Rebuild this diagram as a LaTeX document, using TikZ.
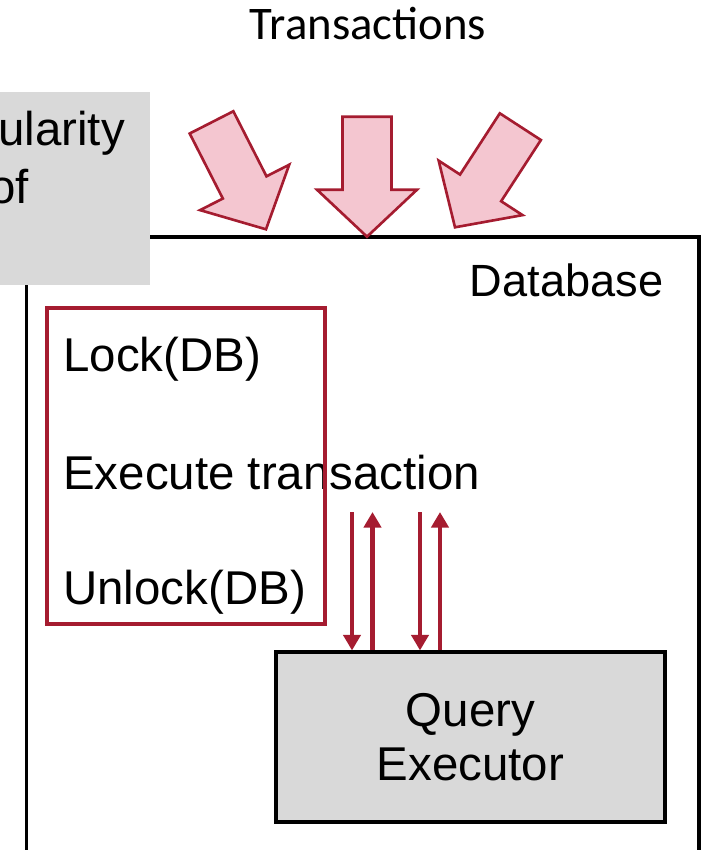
\documentclass[tikz,border=0pt]{standalone}
\usepackage{fontspec}
\setmainfont{Liberation Sans}
\newfontfamily\calibrifont{Carlito}
\usetikzlibrary{arrows.meta}
\definecolor{crimson}{HTML}{A51C30}
\definecolor{pinkfill}{HTML}{F4C6D0}
\definecolor{boxgray}{HTML}{D9D9D9}
\tikzset{
  bigtext/.style={inner sep=0pt, font=\fontsize{27}{31}\selectfont},
  txarrow/.pic={\filldraw[draw=crimson, fill=pinkfill, line width=1.5pt, line join=miter]
    (0,0) -- (-50,-47) -- (-24.5,-47) -- (-24.5,-120) -- (24.5,-120) -- (24.5,-47) -- (50,-47) -- cycle;},
  qarrow/.style={draw=crimson, line width=2.8pt, -{Triangle[width=0.34cm, length=0.31cm]}},
}
\begin{document}
\begin{tikzpicture}[x=0.02cm, y=-0.02cm]
\useasboundingbox (0,0) rectangle (703,850);
% database frame, open at the bottom
\draw[line width=1.9pt] (26.5,870) |- (699,237) -- (699,870);
\fill[boxgray] (0,92) rectangle (150,285);
\node[bigtext, anchor=base west] (gran1) at (-2,145) {ularity};
\node[bigtext, anchor=base east] (gran2) at (29,203) {of};
\node[inner sep=0pt, font=\calibrifont\fontsize{26.6}{30}\selectfont, anchor=base] (tx) at (368,39.3) {Transactions};
\pic[rotate=27] at (266,229.3) {txarrow};
\pic at (367,236.7) {txarrow};
\pic[rotate=-33] at (455,227.3) {txarrow};
\node[bigtext, font=\fontsize{25.7}{30}\selectfont, anchor=base east] (db) at (663.5,296.7) {Database};
% locking steps
\node[bigtext, anchor=base west] (lock) at (63,371.7) {Lock(DB)};
\node[bigtext, anchor=base west] (exec) at (63,489.3) {Execute transaction};
\node[bigtext, anchor=base west] (unlock) at (63,604) {Unlock(DB)};
\draw[crimson, line width=2pt] (47,308) rectangle (325,624);
\node[draw, fill=boxgray, line width=1.8pt, minimum width=7.78cm, minimum height=3.4cm, align=center,
  font=\fontsize{27}{30.7}\selectfont] (qe) at (470.5,737) {Query\\Executor};
\foreach \x/\n in {352/d1, 420/d2} {
  \coordinate (\n) at (\x,512);
  \draw[qarrow] (\n) -- (\n |- qe.north);
}
\foreach \x/\n in {372.5/u1, 440/u2} {
  \coordinate (\n) at (\x,512);
  \draw[qarrow] (\n |- qe.north) -- (\n);
}
\end{tikzpicture}
\end{document}
